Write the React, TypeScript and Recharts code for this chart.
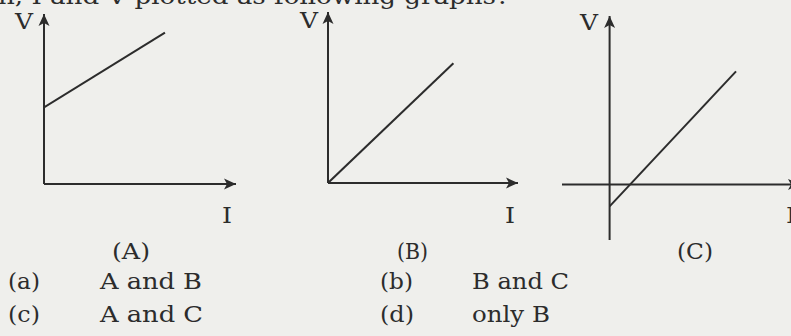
import React from "react";
import { LineChart, Line, XAxis, YAxis, ReferenceLine } from "recharts";

// V–I graphs: (A) line with positive intercept, (B) through origin, (C) negative intercept
const graphAData = [
  { i: 0, v: 4.5 },
  { i: 6.3, v: 8.9 },
];
const graphBData = [
  { i: 0, v: 0 },
  { i: 6.6, v: 7.0 },
];
const graphCData = [
  { i: 0, v: -1.3 },
  { i: 6.64, v: 6.71 },
];

const domainA = { x: [0, 10], y: [0, 10] };
const domainB = { x: [0, 10], y: [0, 10] };
const domainC = { x: [-2.5, 10], y: [-3.3, 10] };

const graphLabels = ["(A)", "(B)", "(C)"];
const optionKeys = ["(a)", "(b)", "(c)", "(d)"];
const optionTexts = ["A and B", "B and C", "A and C", "only B"];
const questionTail = "n, I and V plotted as following graphs?";

const INK = "#2c2c2c";
const PAPER = "#efefec";
const FONT = "'DejaVu Serif', 'Liberation Serif', serif";

type Dom = { x: number[]; y: number[] };

function ArrowDefs({ id }: { id: string }) {
  return (
    <defs>
      <marker
        id={id}
        markerWidth={14}
        markerHeight={12}
        refX={12}
        refY={6}
        orient="auto"
        markerUnits="userSpaceOnUse"
      >
        <path d="M0,0.5 L12,6 L0,11.5 L3,6 Z" fill={INK} />
      </marker>
    </defs>
  );
}

function Graph({
  id,
  data,
  dom,
  width,
  height,
  margin,
  left,
  top,
}: {
  id: string;
  data: { i: number; v: number }[];
  dom: Dom;
  width: number;
  height: number;
  margin: { top: number; right: number; bottom: number; left: number };
  left: number;
  top: number;
}) {
  const [x0, x1] = dom.x;
  const [y0, y1] = dom.y;
  const markerId = `arrow-${id}`;
  return (
    <div style={{ position: "absolute", left, top }}>
      <LineChart width={width} height={height} data={data} margin={margin}>
        <ArrowDefs id={markerId} />
        <XAxis dataKey="i" type="number" domain={[x0, x1]} hide allowDataOverflow />
        <YAxis type="number" domain={[y0, y1]} hide allowDataOverflow />
        {/* I axis */}
        <ReferenceLine
          segment={[
            { x: x0, y: 0 },
            { x: x1, y: 0 },
          ]}
          stroke={INK}
          strokeWidth={2}
          markerEnd={`url(#${markerId})`}
          ifOverflow="visible"
        />
        {/* V axis */}
        <ReferenceLine
          segment={[
            { x: 0, y: y0 },
            { x: 0, y: y1 },
          ]}
          stroke={INK}
          strokeWidth={2}
          markerEnd={`url(#${markerId})`}
          ifOverflow="visible"
        />
        <Line
          dataKey="v"
          type="linear"
          stroke={INK}
          strokeWidth={2}
          dot={false}
          activeDot={false}
          isAnimationActive={false}
        />
      </LineChart>
    </div>
  );
}

type T = { s: string; x: number; y: number; w: number; size?: number };

const texts: T[] = [
  { s: questionTail, x: -2, y: 4, w: 512 },
  { s: "V", x: 15, y: 29, w: 18 },
  { s: "V", x: 300, y: 28, w: 18 },
  { s: "V", x: 580, y: 30, w: 18 },
  { s: "I", x: 222, y: 223, w: 10, size: 23 },
  { s: "I", x: 505, y: 223, w: 10, size: 23 },
  { s: "I", x: 786, y: 223, w: 10, size: 23 },
  { s: graphLabels[0], x: 112, y: 259, w: 38 },
  { s: graphLabels[1], x: 397, y: 259, w: 31 },
  { s: graphLabels[2], x: 677, y: 259, w: 36 },
  { s: optionKeys[0], x: 8, y: 289, w: 32 },
  { s: optionTexts[0], x: 100, y: 289, w: 102 },
  { s: optionKeys[1], x: 380, y: 289, w: 33 },
  { s: optionTexts[1], x: 472, y: 289, w: 97 },
  { s: optionKeys[2], x: 8, y: 322, w: 32 },
  { s: optionTexts[2], x: 100, y: 322, w: 103 },
  { s: optionKeys[3], x: 380, y: 322, w: 34 },
  { s: optionTexts[3], x: 472, y: 322, w: 78 },
];

export default function App() {
  return (
    <div
      style={{
        position: "absolute",
        left: 0,
        top: 0,
        width: 791,
        height: 336,
        overflow: "hidden",
        background: PAPER,
      }}
    >
      <Graph
        id="a"
        data={graphAData}
        dom={domainA}
        left={0}
        top={0}
        width={260}
        height={200}
        margin={{ top: 14, right: 24, bottom: 16, left: 44 }}
      />
      <Graph
        id="b"
        data={graphBData}
        dom={domainB}
        left={260}
        top={0}
        width={270}
        height={200}
        margin={{ top: 12, right: 12, bottom: 17, left: 68 }}
      />
      <Graph
        id="c"
        data={graphCData}
        dom={domainC}
        left={520}
        top={0}
        width={290}
        height={250}
        margin={{ top: 16, right: 10, bottom: 10, left: 42 }}
      />
      <svg
        width={791}
        height={336}
        style={{ position: "absolute", left: 0, top: 0, pointerEvents: "none" }}
      >
        {texts.map((t, k) => (
          <text
            key={k}
            x={t.x}
            y={t.y}
            textLength={t.w}
            lengthAdjust="spacingAndGlyphs"
            fontFamily={FONT}
            fontSize={t.size ?? 22}
            fill={INK}
          >
            {t.s}
          </text>
        ))}
      </svg>
    </div>
  );
}
